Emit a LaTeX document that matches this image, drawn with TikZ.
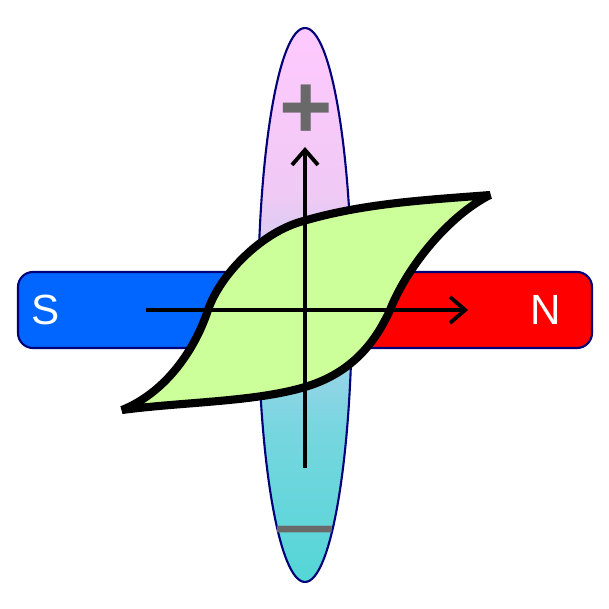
\documentclass[tikz,border=0pt]{standalone}
\usepackage{fontspec}
\setmainfont{Liberation Sans}
\usetikzlibrary{arrows.meta,calc}
\definecolor{barblue}{RGB}{0,102,255}
\definecolor{barred}{RGB}{255,0,0}
\definecolor{edgenavy}{RGB}{0,0,120}
\definecolor{loopgreen}{RGB}{204,255,153}
\definecolor{signgray}{RGB}{105,105,105}
\pgfdeclareverticalshading{ovalshade}{100bp}{rgb(0bp)=(0.33,0.84,0.84); rgb(25bp)=(0.33,0.84,0.84); rgb(39bp)=(0.47,0.84,0.88); rgb(50bp)=(0.72,0.82,0.93); rgb(60bp)=(0.94,0.79,0.96); rgb(75bp)=(1,0.79,1); rgb(100bp)=(1,0.79,1)}
\def\barRadius{0.15cm}
\def\axisWidth{1.1pt}
\def\loopWidth{2.3pt}

\begin{document}
\begin{tikzpicture}
  \useasboundingbox (0,0) rectangle (6.09,6.09);

  % magnet bar corners and centre
  \coordinate (BarSW) at (0.18,2.61);
  \coordinate (BarNE) at (5.92,3.37);
  \coordinate (BarMid) at (3.05,2.99);

  % the oval
  \draw[edgenavy,line width=0.6pt,shading=ovalshade]
    (3.05,3.04) ellipse [x radius=0.47cm, y radius=2.77cm];

  \begin{scope}
    \clip (BarSW) rectangle (BarMid |- BarNE);
    \fill[barblue,rounded corners=\barRadius] (BarSW) rectangle (BarNE);
  \end{scope}
  \begin{scope}
    \clip (BarMid |- BarSW) rectangle (BarNE);
    \fill[barred,rounded corners=\barRadius] (BarSW) rectangle (BarNE);
  \end{scope}
  \draw[edgenavy,line width=0.6pt,rounded corners=\barRadius] (BarSW) rectangle (BarNE);

  \node[white,font=\fontsize{12}{12}\selectfont] (S) at (0.46,2.99) {S};
  \node[white,font=\fontsize{12}{12}\selectfont] (N) at (5.46,2.99) {N};

  \node[signgray,font=\fontsize{26}{26}\selectfont\bfseries] (Plus) at (3.06,4.97) {+};
  \node[signgray,font=\fontsize{28}{28}\selectfont] (Minus) at (3.05,0.69) {–};

  % hysteresis loop
  \coordinate (LoopA) at (4.90,4.14);
  \coordinate (LoopUp) at (3.00,3.87);
  \coordinate (LoopHl) at (2.08,2.99);
  \coordinate (LoopB) at (1.22,1.99);
  \coordinate (LoopLo) at (3.05,2.22);
  \coordinate (LoopHr) at (3.90,2.99);

  \draw[line width=\loopWidth,line join=bevel,fill=loopgreen]
    (LoopA) .. controls (4.27,4.09) and (3.63,4.06) .. (LoopUp)
            .. controls (2.60,3.75) and (2.20,3.34) .. (LoopHl)
            .. controls (1.93,2.54) and (1.62,2.15) .. (LoopB)
            .. controls (1.82,2.07) and (2.55,2.07) .. (LoopLo)
            .. controls (3.45,2.34) and (3.72,2.59) .. (LoopHr)
            .. controls (4.08,3.44) and (4.50,3.94) .. (LoopA) -- cycle;

  % axes
  \coordinate (HS) at (1.46,2.99);
  \coordinate (HE) at (4.68,2.99);
  \coordinate (VS) at (3.05,1.41);
  \coordinate (VE) at (3.05,4.62);
  \draw[line width=\axisWidth,-{Straight Barb[length=0.15cm,width=0.26cm]}] (HS) -- (HE);
  \draw[line width=\axisWidth,-{Straight Barb[length=0.15cm,width=0.26cm]}] (VS) -- (VE);

\end{tikzpicture}
\end{document}
